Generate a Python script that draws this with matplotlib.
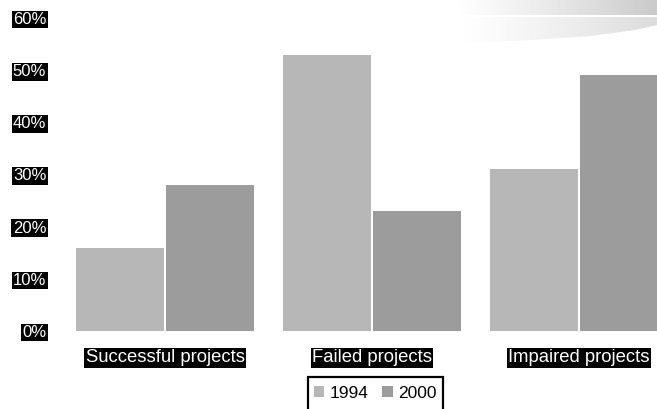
import numpy as np
import matplotlib
matplotlib.use("Agg")
import matplotlib.pyplot as plt
from matplotlib.patches import Polygon, Patch, Rectangle

plt.rcParams['font.family'] = ['Liberation Sans', 'DejaVu Sans']

categories = ['Successful projects', 'Failed projects', 'Impaired projects']
years = ['1994', '2000']
v1994 = [16, 53, 31]
v2000 = [28, 23, 49]
colors = ['#b7b7b7', '#9c9c9c']
yticks = [0, 10, 20, 30, 40, 50, 60]

W, H = 657, 409
fig = plt.figure(figsize=(W / 100, H / 100), dpi=100)

# background swoosh at top right (decoration), drawn as thin clipped strips
bg = fig.add_axes([0, 0, 1, 1], zorder=-1)
bg.axis('off')
bg.set_xlim(0, W)
bg.set_ylim(H, 0)
bands = [
    ([(452, 0), (657, 0), (657, 14.5), (456, 14.5)], 0.79),
    ([(458, 16.5), (657, 16.5), (657, 25), (635, 30), (590, 36), (530, 40), (465, 43)], 0.86),
]
for pts, dark in bands:
    poly = Polygon(pts, closed=True, facecolor='none', edgecolor='none')
    bg.add_patch(poly)
    xs = [p[0] for p in pts]
    ys = [p[1] for p in pts]
    edges = np.linspace(min(xs), max(xs), 80)
    for x0, x1 in zip(edges[:-1], edges[1:]):
        f = ((x0 + x1) / 2 - min(xs)) / (max(xs) - min(xs))
        g = 1 - f ** 1.2 * (1 - dark)
        r = Rectangle((x0, min(ys)), x1 - x0 + 0.6, max(ys) - min(ys),
                      facecolor=(g, g, g), edgecolor='none')
        bg.add_patch(r)
        r.set_clip_path(poly)

left = 61.5 / W
ax = fig.add_axes([left, (H - 331) / H, 1 - left, (331 - 18) / H])
ax.patch.set_visible(False)
x = np.arange(len(categories))
bw = 88 / 207
ax.bar(x - bw / 2 - 1 / 207, v1994, width=bw, color=colors[0])
ax.bar(x + bw / 2 + 1 / 207, v2000, width=bw, color=colors[1])
ax.set_xlim(-0.5, -0.5 + (W - 61.5) / 207)
ax.set_ylim(0, 60)
for s in ax.spines.values():
    s.set_visible(False)

ax.set_yticks(yticks)
ax.set_yticklabels([f'{t}%' for t in yticks], color='white', fontsize=12)
ax.set_xticks(x)
ax.set_xticklabels(categories, color='white', fontsize=13.3)
ax.tick_params(axis='y', length=0, pad=11)
ax.tick_params(axis='x', length=0, pad=13)
for t in ax.get_yticklabels() + ax.get_xticklabels():
    t.set_bbox(dict(facecolor='black', edgecolor='none', pad=1))

# legend, its frame runs off the bottom edge
handles = [Patch(facecolor=c, edgecolor='none') for c in colors]
leg = fig.legend(handles, years, loc='center', bbox_to_anchor=(375 / W, (H - 393) / H),
                 ncol=2, fontsize=12.5, frameon=False,
                 handlelength=0.6, handleheight=0.6, handletextpad=0.3, columnspacing=0.8)
fig.patches.append(Rectangle((307.5 / W, -0.05), 136 / W, 0.05 + (H - 377) / H,
                             transform=fig.transFigure, facecolor='none',
                             edgecolor='black', linewidth=1.6))

fig.savefig('out.png', dpi=100)
